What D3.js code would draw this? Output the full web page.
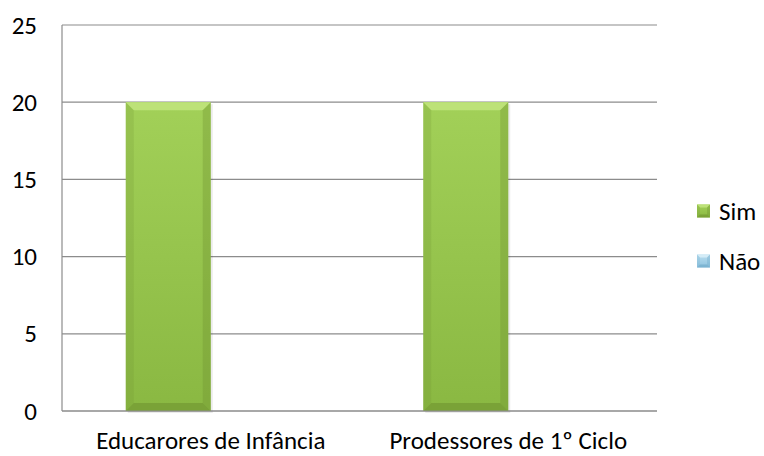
<!DOCTYPE html>
<html><head><meta charset="utf-8">
<script src="https://cdn.jsdelivr.net/npm/d3@7"></script>
<style>body{margin:0;background:#fff}svg{font-family:Calibri,Carlito,"Open Sans",sans-serif}</style>
</head><body><svg id="c" width="764" height="456"></svg>
<script>
const categories = ["Educarores de Infância", "Prodessores de 1º Ciclo"];
const seriesNames = ["Sim", "Não"];
const simValues = [20, 20];
const naoValues = [0, 0];
const yTicks = [0, 5, 10, 15, 20, 25];

const svg = d3.select("#c");
const m = {l: 62, r: 657, t: 25, b: 411};
const x0 = d3.scaleBand().domain(categories).range([m.l, m.r]);
const x1 = d3.scaleBand().domain(seriesNames).range([0, x0.bandwidth()]).paddingOuter(0.75).paddingInner(0);
const y = d3.scaleLinear().domain([0, 25]).range([m.b, m.t]);

const defs = svg.append("defs");
function grad(id, stops, vertical) {
  const g = defs.append("linearGradient").attr("id", id)
    .attr("x1", 0).attr("y1", 0).attr("x2", vertical ? 0 : 1).attr("y2", vertical ? 1 : 0);
  stops.forEach(s => g.append("stop").attr("offset", s[0]).attr("stop-color", s[1]));
}
grad("gMain", [[0, "#a2d058"], [1, "#8ab842"]], true);
grad("gBlue", [[0, "#b8ddef"], [1, "#8fc3df"]], true);

svg.append("g").selectAll("line").data(yTicks).join("line")
  .attr("x1", m.l).attr("x2", m.r).attr("y1", d => y(d)).attr("y2", d => y(d))
  .attr("stroke", "#8c8c8c").attr("stroke-width", 1.2);
svg.append("line").attr("x1", m.l).attr("x2", m.l).attr("y1", m.t).attr("y2", m.b)
  .attr("stroke", "#8c8c8c").attr("stroke-width", 1.2);

svg.append("g").selectAll("text").data(yTicks).join("text")
  .attr("x", 37).attr("y", d => y(d)).attr("dy", "0.34em").attr("text-anchor", "end")
  .attr("font-size", 25).attr("fill", "#000").text(d => d);

function bevelBar(g, xl, w, yt, yb, colorFill, light, dark, b) {
  g.append("rect").attr("x", xl).attr("y", yt).attr("width", w).attr("height", yb - yt)
    .attr("fill", colorFill);
  g.append("polygon").attr("points", [[xl, yt], [xl + w, yt], [xl + w - b, yt + b], [xl + b, yt + b]].join(" "))
    .attr("fill", light);
  g.append("polygon").attr("points", [[xl, yb], [xl + w, yb], [xl + w - b, yb - b], [xl + b, yb - b]].join(" "))
    .attr("fill", dark).attr("opacity", 0.6);
  g.append("polygon").attr("points", [[xl, yt], [xl + b, yt + b], [xl + b, yb - b], [xl, yb]].join(" "))
    .attr("fill", dark).attr("opacity", 0.2);
  g.append("polygon").attr("points", [[xl + w, yt], [xl + w - b, yt + b], [xl + w - b, yb - b], [xl + w, yb]].join(" "))
    .attr("fill", dark).attr("opacity", 0.35);
}
const barsG = svg.append("g");
categories.forEach((c, i) => {
  const g = barsG.append("g");
  g.append("rect").attr("x", x0(c) + x1("Sim") + 2).attr("y", y(simValues[i]) + 2)
    .attr("width", x1.bandwidth()).attr("height", y(0) - y(simValues[i]))
    .attr("fill", "#000").attr("opacity", 0.08);
  bevelBar(g, x0(c) + x1("Sim"), x1.bandwidth(), y(simValues[i]), y(0), "url(#gMain)", "#bde278", "#6f9330", 8);
  if (naoValues[i] > 0) {
    bevelBar(g, x0(c) + x1("Não"), x1.bandwidth(), y(naoValues[i]), y(0), "url(#gBlue)", "#d4ecf7", "#6ea8c8", 8);
  }
});
svg.append("line").attr("x1", m.l).attr("x2", m.r).attr("y1", y(0)).attr("y2", y(0))
  .attr("stroke", "#8c8c8c").attr("stroke-width", 1.2);

svg.append("g").selectAll("text").data(categories).join("text")
  .attr("x", d => x0(d) + x0.bandwidth() / 2).attr("y", 449).attr("text-anchor", "middle")
  .attr("font-size", 25).attr("fill", "#000").text(d => d);

const leg = svg.append("g");
const legColors = [["url(#gMain)", "#bde278", "#6f9330"], ["url(#gBlue)", "#d4ecf7", "#6ea8c8"]];
seriesNames.forEach((s, i) => {
  const yy = 211 + i * 50;
  const g = leg.append("g");
  bevelBar(g, 697, 13, yy - 6.5, yy + 6.5, legColors[i][0], legColors[i][1], legColors[i][2], 3);
  g.append("text").attr("x", 719).attr("y", yy).attr("dy", "0.34em")
    .attr("font-size", 25).attr("fill", "#000").text(s);
});
</script></body></html>
